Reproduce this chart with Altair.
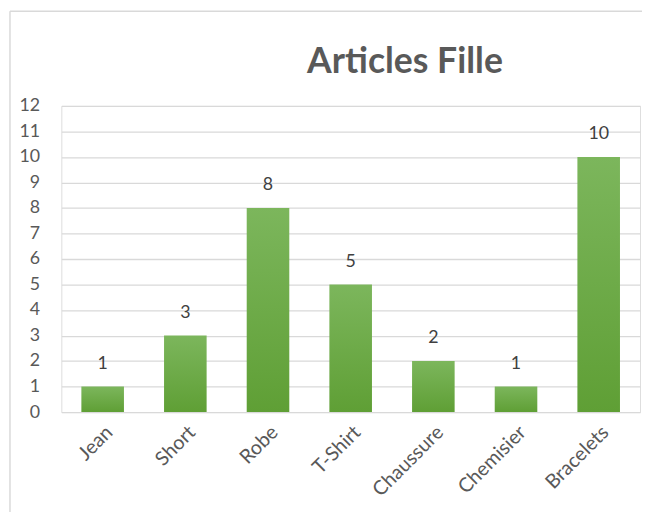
import altair as alt
import pandas as pd

categories = ["Jean", "Short", "Robe", "T-Shirt", "Chaussure", "Chemisier", "Bracelets"]
values = [1, 3, 8, 5, 2, 1, 10]
y_ticks = list(range(0, 13))
title_text = "Articles Fille"

df = pd.DataFrame({"article": categories, "nombre": values})

FONT = "Lato"
GRAY = "#595959"

base = alt.Chart(df).encode(
    x=alt.X("article:N", sort=categories, title=None,
            scale=alt.Scale(paddingInner=0.485, paddingOuter=0.2425),
            axis=alt.Axis(labelAngle=-45, labelFontSize=20, labelColor=GRAY,
                          labelFont=FONT, ticks=False, domain=False,
                          labelPadding=10, grid=False)),
    y=alt.Y("nombre:Q", title=None,
            scale=alt.Scale(domain=[0, 12], nice=False),
            axis=alt.Axis(values=y_ticks, labelFontSize=18, labelColor=GRAY,
                          labelFont=FONT, ticks=False, domain=False,
                          labelPadding=22, gridColor="#d9d9d9", gridWidth=1.3)),
)

bars = base.mark_bar(
    color=alt.Gradient(
        gradient="linear", x1=0, y1=0, x2=0, y2=1,
        stops=[alt.GradientStop(offset=0, color="#7cb65c"),
               alt.GradientStop(offset=1, color="#5f9f35")]),
)

labels = base.mark_text(baseline="alphabetic", dy=-18, fontSize=18,
                        font=FONT, color="#404040").encode(text="nombre:Q")

deco = pd.DataFrame({"t": [title_text]})
left_line = alt.Chart(deco).mark_rule(stroke="#d9d9d9", strokeWidth=1.5).encode(
    x=alt.value(-52), y=alt.value(-96), y2=alt.value(420))
top_line = alt.Chart(deco).mark_rule(stroke="#d9d9d9", strokeWidth=1.5).encode(
    x=alt.value(-52), x2=alt.value(588), y=alt.value(-96))

title = alt.Chart(deco).mark_text(
    font=FONT, fontSize=36, fontWeight="bold", color=GRAY,
    align="center", baseline="alphabetic"
).encode(text="t:N", x=alt.value(348), y=alt.value(-33))

chart = alt.layer(left_line, top_line, bars, labels, title).properties(
    width=586, height=310,
    autosize=alt.AutoSizeParams(type="none"),
    padding={"left": 54, "top": 96, "right": 2, "bottom": 98},
).configure_view(stroke=None).configure(background="white")

chart.save("out.html", embed_options={"renderer": "svg", "actions": False})
